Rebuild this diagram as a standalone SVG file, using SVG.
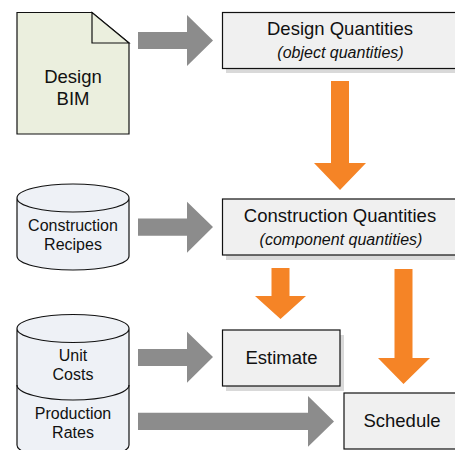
<svg xmlns="http://www.w3.org/2000/svg" width="455" height="450" viewBox="0 0 455 450">
<style>
text{font-family:"Liberation Sans",Arial,sans-serif;fill:#111;text-anchor:middle}
.t16{font-size:16px}.t18{font-size:18.500px}
.it{font-size:16px;font-style:italic}
.box{fill:#f0f0f0;stroke:#111;stroke-width:1.2}
.sh{fill:#d9d9d9}
.db{fill:#eef1f6;stroke:#111;stroke-width:1.2}
.doc{fill:#ebefde;stroke:#111;stroke-width:1.2}
.g{fill:#8c8c8c}.o{fill:#f58426}
</style>
<g id="connectors">
<polygon class="g" points="138,32 187,32 187,15 213,40.500 187,66 187,49 138,49"/>
<polygon class="g" points="138,218.500 187,218.500 187,201.700 213,227 187,252.700 187,235.700 138,235.700"/>
<polygon class="g" points="138,349 187,349 187,331.700 213,357 187,382.700 187,366 138,366"/>
<polygon class="g" points="138,412.700 308,412.700 308,396 334,421.500 308,446.700 308,430 138,430"/>
<polygon class="o" points="331,81 349,81 349,163 366,163 340,190 314,163 331,163"/>
<polygon class="o" points="271.500,268 289.500,268 289.500,296 306,296 280.500,319 255,296 271.500,296"/>
<polygon class="o" points="394.500,269 412.500,269 412.500,358 430,358 403.500,384 378,358 394.500,358"/>
</g>
<g id="design-bim">
<path class="doc" d="M17 12.500H92L129 43V134H17Z"/>
<path class="doc" d="M92 12.500V43H129Z"/>
<text class="t18" x="73" y="83">Design</text>
<text class="t18" x="73" y="105">BIM</text>
</g>
<g id="design-quantities">
<rect class="sh" x="226" y="17" width="229" height="56"/>
<rect class="box" x="222.500" y="12.500" width="240" height="56"/>
<text class="t18" x="340" y="35">Design Quantities</text>
<text class="it" x="340.500" y="58">(object quantities)</text>
</g>
<g id="construction-recipes">
<path class="db" d="M17 198V256C17 264 42 270 73 270S129 264 129 256V198C129 190 104 184 73 184S17 190 17 198C17 206 42 212 73 212S129 206 129 198"/>
<text class="t16" x="73" y="231">Construction</text>
<text class="t16" x="73" y="250">Recipes</text>
</g>
<g id="construction-quantities">
<rect class="sh" x="226" y="204" width="229" height="56"/>
<rect class="box" x="222.500" y="199" width="240" height="56"/>
<text class="t18" x="340" y="222">Construction Quantities</text>
<text class="it" x="341" y="245">(component quantities)</text>
</g>
<g id="unit-costs-production-rates">
<path class="db" d="M17 328.500V445C17 453 42 459 73 459S129 453 129 445V328.500C129 320.500 104 314.500 73 314.500S17 320.500 17 328.500C17 336.500 42 342.500 73 342.500S129 336.500 129 328.500"/>
<path d="M17 385C17 393 42 400 73 400S129 393 129 385" fill="none" stroke="#111" stroke-width="1.200"/>
<text class="t16" x="73" y="361">Unit</text>
<text class="t16" x="73" y="380">Costs</text>
<text class="t16" x="73" y="419">Production</text>
<text class="t16" x="73" y="438">Rates</text>
</g>
<g id="estimate">
<rect class="sh" x="226" y="335" width="118" height="56"/>
<rect class="box" x="222.500" y="330" width="117.500" height="56"/>
<text class="t18" x="281.500" y="364">Estimate</text>
</g>
<g id="schedule">
<rect class="box" x="344" y="393" width="120" height="56"/>
<text class="t18" x="402" y="427">Schedule</text>
</g>
</svg>
